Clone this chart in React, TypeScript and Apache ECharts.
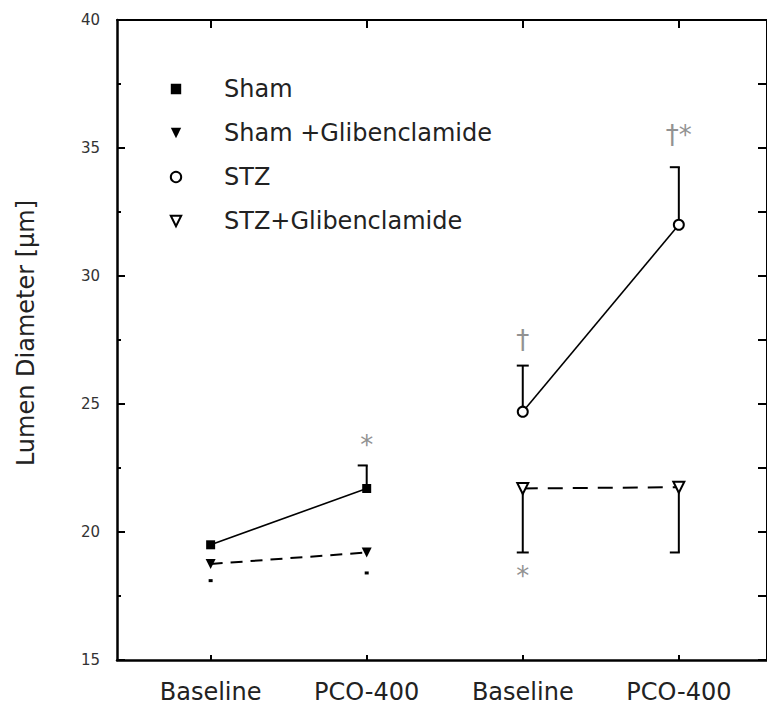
import { useEffect, useRef } from 'react';
import * as echarts from 'echarts';

// ---------- data ----------
const categories = ['Baseline', 'PCO-400', 'Baseline', 'PCO-400'];
const yTicks = [15, 20, 25, 30, 35, 40];

const shamIdx = [0, 1];
const stzIdx = [2, 3];

const shamMean = [19.5, 21.7];
const shamGliMean = [18.75, 19.2];
const stzMean = [24.7, 32.0];
const stzGliMean = [21.7, 21.75];

// end point of the drawn (one-sided) error bar; null = none visible
const shamErr = [null, 22.6];
const shamGliErr = [18.1, 18.4];
const stzErr = [26.5, 34.25];
const stzGliErr = [19.2, 19.2];

// significance marks
const annotCat = [1, 2, 3, 2];
const annotY = [23.4, 27.5, 35.5, 18.3];
const annotText = ['*', '†', '†*', '*'];

const seriesNames = ['Sham', 'Sham +Glibenclamide', 'STZ', 'STZ+Glibenclamide'];
const yTitle = 'Lumen Diameter [μm]';

// ---------- helpers ----------
const FONT = 'DejaVu Sans';
const pts = (idx: number[], vals: number[]) => idx.map((c, i) => [c + 1, vals[i]]);

// cap modes: 0 = centred cap, 1 = cap to the left, 2 = cap only (no stem)
const errRows = (idx: number[], mean: number[], err: (number | null)[], modes: number[]) =>
  idx
    .map((c, i) => (err[i] == null ? null : [c + 1, mean[i], err[i] as number, modes[i]]))
    .filter((r) => r !== null) as number[][];

export default function App() {
  const ref = useRef<HTMLDivElement>(null);

  useEffect(() => {
    if (!ref.current) return;
    const chart = echarts.init(ref.current, null, { renderer: 'svg' });

    const errData = [
      ...errRows(shamIdx, shamMean, shamErr, [1, 1]),
      ...errRows(shamIdx, shamGliMean, shamGliErr, [2, 2]),
      ...errRows(stzIdx, stzMean, stzErr, [0, 1]),
      ...errRows(stzIdx, stzGliMean, stzGliErr, [0, 1]),
    ];

    const annotData = annotCat.map((c, i) => [c + 1, annotY[i]]);

    const xCommon = {
      type: 'value',
      min: 0.4,
      max: 4.565,
      splitLine: { show: false },
    };
    const yCommon = {
      type: 'value',
      min: yTicks[0],
      max: yTicks[yTicks.length - 1],
      interval: 5,
      splitLine: { show: false },
      minorSplitLine: { show: false },
    };

    chart.setOption({
      animation: false,
      backgroundColor: '#ffffff',
      grid: { left: 117, top: 20, width: 656, height: 640, containLabel: false },
      legend: {
        orient: 'vertical',
        left: 127,
        top: 72,
        itemWidth: 86,
        itemHeight: 13,
        itemGap: 20,
        selectedMode: false,
        data: seriesNames,
        lineStyle: { opacity: 0 },
        textStyle: { fontFamily: FONT, fontSize: 24, color: '#222', lineHeight: 24 },
      },
      xAxis: [
        {
          ...xCommon,
          position: 'bottom',
          axisLine: { lineStyle: { color: '#000', width: 2.5 } },
          axisTick: { inside: true, length: 5, lineStyle: { color: '#000', width: 2 }, customValues: [1, 2, 3, 4] },
          axisLabel: {
            customValues: [1, 2, 3, 4],
            formatter: (v: number) => categories[Math.round(v) - 1] ?? '',
            margin: 20,
            fontFamily: FONT,
            fontSize: 24,
            color: '#222',
          },
        },
        {
          ...xCommon,
          position: 'top',
          axisLine: { lineStyle: { color: '#000', width: 2 } },
          axisTick: { inside: true, length: 8, lineStyle: { color: '#000', width: 2 }, customValues: [1, 2, 3, 4] },
          axisLabel: { show: false },
        },
      ],
      yAxis: [
        {
          ...yCommon,
          position: 'left',
          axisLine: { lineStyle: { color: '#000', width: 2.5 } },
          axisTick: { inside: true, length: 8, lineStyle: { color: '#000', width: 2 } },
          minorTick: { show: true, splitNumber: 2, length: 4, lineStyle: { color: '#000', width: 2 } },
          axisLabel: { margin: 17, fontFamily: FONT, fontSize: 15, color: '#333' },
        },
        {
          ...yCommon,
          position: 'right',
          axisLine: { lineStyle: { color: '#000', width: 2 } },
          axisTick: { inside: true, length: 9, lineStyle: { color: '#000', width: 2 } },
          minorTick: { show: true, splitNumber: 2, length: 9, lineStyle: { color: '#000', width: 2 } },
          axisLabel: { show: false },
        },
      ],
      graphic: [
        {
          type: 'text',
          x: 26,
          y: 333,
          rotation: Math.PI / 2,
          style: {
            text: yTitle,
            fontFamily: FONT,
            fontSize: 24,
            fill: '#222',
            align: 'center',
            verticalAlign: 'middle',
          },
        },
      ],
      series: [
        {
          type: 'custom',
          name: 'errors',
          z: 1,
          silent: true,
          data: errData,
          renderItem: (_params: any, api: any) => {
            const x = api.value(0);
            const m = api.value(1);
            const e = api.value(2);
            const mode = api.value(3);
            const p0 = api.coord([x, m]);
            const p1 = api.coord([x, e]);
            const style = { stroke: '#000', lineWidth: 2 };
            const children: any[] = [];
            if (mode !== 2) {
              children.push({ type: 'line', shape: { x1: p0[0], y1: p0[1], x2: p1[0], y2: p1[1] }, style });
            }
            let x1 = p1[0] - 6;
            let x2 = p1[0] + 6;
            if (mode === 1) {
              x1 = p1[0] - 9;
              x2 = p1[0] + 1;
            } else if (mode === 2) {
              x1 = p1[0] - 2;
              x2 = p1[0] + 2;
            }
            children.push({
              type: 'line',
              shape: { x1, y1: p1[1], x2, y2: p1[1] },
              style: { stroke: '#000', lineWidth: mode === 2 ? 3 : 2 },
            });
            return { type: 'group', children };
          },
        },
        {
          type: 'custom',
          name: 'marks',
          z: 3,
          silent: true,
          data: annotData,
          renderItem: (params: any, api: any) => {
            const p = api.coord([api.value(0), api.value(1)]);
            return {
              type: 'text',
              x: p[0],
              y: p[1],
              style: {
                text: annotText[params.dataIndex],
                fontFamily: FONT,
                fontSize: 26,
                fill: '#929292',
                align: 'center',
                verticalAlign: 'middle',
              },
            };
          },
        },
        {
          type: 'line',
          name: seriesNames[0],
          z: 2,
          data: pts(shamIdx, shamMean),
          symbol: 'rect',
          symbolSize: 9,
          itemStyle: { color: '#000' },
          lineStyle: { color: '#000', width: 1.6 },
        },
        {
          type: 'line',
          name: seriesNames[1],
          z: 2,
          data: pts(shamIdx, shamGliMean),
          symbol: 'triangle',
          symbolRotate: 180,
          symbolSize: 10,
          itemStyle: { color: '#000' },
          lineStyle: { color: '#000', width: 2, type: [12, 8] },
        },
        {
          type: 'line',
          name: seriesNames[2],
          z: 2,
          data: pts(stzIdx, stzMean),
          symbol: 'emptyCircle',
          symbolSize: 10,
          itemStyle: { color: '#000', borderWidth: 1.6 },
          lineStyle: { color: '#000', width: 1.6 },
        },
        {
          type: 'line',
          name: seriesNames[3],
          z: 2,
          data: pts(stzIdx, stzGliMean),
          symbol: 'emptyTriangle',
          symbolRotate: 180,
          symbolSize: 11,
          itemStyle: { color: '#000', borderWidth: 1.6 },
          lineStyle: { color: '#000', width: 2, type: [15, 10] },
        },
      ],
    });

    return () => chart.dispose();
  }, []);

  return (
    <div
      ref={ref}
      style={{ position: 'absolute', left: 0, top: 0, width: 767, height: 707, background: '#fff' }}
    />
  );
}
